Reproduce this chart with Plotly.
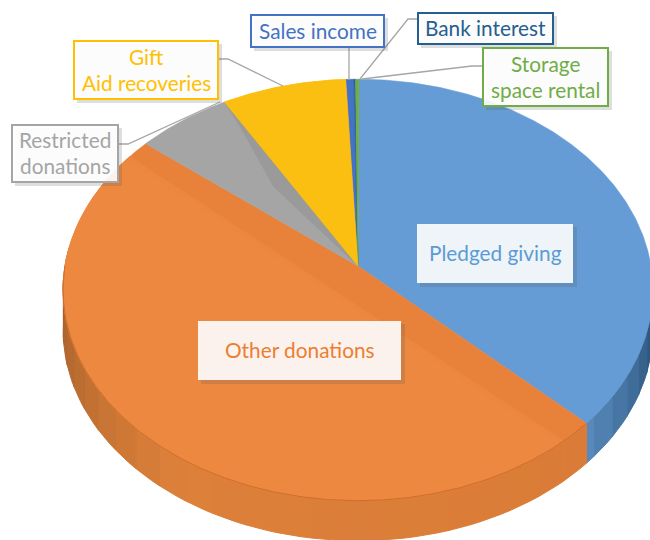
import math
import plotly.graph_objects as go

categories = ["Pledged giving", "Other donations", "Restricted donations", "Gift Aid recoveries",
              "Sales income", "Bank interest", "Storage space rental"]
values = [37.2, 48.6, 5.8, 7.6, 0.5, 0.1, 0.2]
face_colors = ["#659CD5", "#E8813A", "#A5A5A5", "#FBBF12", "#4472C4", "#2A6099", "#70AD47"]
label_lines = [["Pledged giving"], ["Other donations"], ["Restricted", "donations"],
               ["Gift", "Aid recoveries"], ["Sales income"], ["Bank interest"], ["Storage", "space rental"]]
label_colors = ["#5B9BD5", "#ED7D31", "#A5A5A5", "#FFC000", "#4472C4", "#255E91", "#70AD47"]

ROT = 0.2
CX, CY = 358, 266
A, B, K = 293, 208, 0.1137
DEPTH = 40
FONT = "Lato"


def pt(t, r=1.0):
    u, v = r * math.sin(math.radians(t)), r * math.cos(math.radians(t))
    w = 1 + K * v
    return CX + A * u / w, CY - B * v / w


def arc(a, b, n=None):
    n = n or max(2, int(abs(b - a)) * 2)
    return [pt(a + (b - a) * i / n) for i in range(n + 1)]


def lerp(c1, c2, f):
    a = [int(c1[i:i + 2], 16) for i in (1, 3, 5)]
    b = [int(c2[i:i + 2], 16) for i in (1, 3, 5)]
    return "rgb(%d,%d,%d)" % tuple(round(x + (y - x) * f) for x, y in zip(a, b))


fig = go.Figure()


def poly(points, color, line=None, width=0.6):
    fig.add_trace(go.Scatter(x=[p[0] for p in points] + [points[0][0]],
                             y=[p[1] for p in points] + [points[0][1]],
                             mode="lines", fill="toself", fillcolor=color,
                             line=dict(color=line or color, width=width),
                             showlegend=False, hoverinfo="skip"))


edges = [ROT]
for val in values:
    edges.append(edges[-1] + val / sum(values) * 360)

# outer wall
STEP = 6
blue_end = edges[1]
orange_end = edges[2]
t = 90.0
while t < blue_end:
    f = (t - 90) / (blue_end - 90)
    seg = arc(t, min(t + STEP, blue_end), STEP)
    poly(seg + [(x, y + DEPTH) for x, y in reversed(seg)], lerp("#1F4468", "#5A8DC0", f), width=1)
    t += STEP
t = blue_end
while t < 275:
    f = (t - blue_end) / (275 - blue_end)
    if f < 0.55:
        col = lerp("#DA7C37", "#DC803A", f / 0.55)
    else:
        col = lerp("#DC803A", "#9A5A28", (f - 0.55) / 0.45)
    seg = arc(t, min(t + STEP, 275), STEP)
    poly(seg + [(x, y + DEPTH) for x, y in reversed(seg)], col, width=1)
    t += STEP

# top face slices
for i, col in enumerate(face_colors):
    poly([(CX, CY)] + arc(edges[i], edges[i + 1]), col)

# bevel bands along the cut edges
poly(arc(edges[1] + 6, edges[2] - 5), "#EC8740")
poly(arc(edges[1] + 6, edges[2] - 5) and [pt(edges[1] + 7 + (edges[2] - edges[1] - 13) * i / 100) for i in range(101)],
     "#ED8841")
poly([(CX, CY), pt(edges[3], 1.0), pt(edges[3] - 1, 0.84), pt(edges[3] - 7, 0.5)], "#9A9A9A")
poly([(CX, CY)] + arc(edges[3], edges[4]), "#FBBF12")

# rim line between face and wall
rim = arc(edges[1], 270)
fig.add_trace(go.Scatter(x=[p[0] for p in rim], y=[p[1] for p in rim], mode="lines",
                         line=dict(color="#CF6C28", width=1), showlegend=False, hoverinfo="skip"))

# leader lines
leaders = [[(349, 47), (349, 80)],
           [(417, 19), (408, 19), (360, 79)],
           [(482, 66), (472, 66), (362, 79)],
           [(218, 59), (228, 59), (283, 86)],
           [(118, 144), (128, 144), (220, 102)]]
for pts in leaders:
    fig.add_trace(go.Scatter(x=[p[0] for p in pts], y=[p[1] for p in pts], mode="lines",
                             line=dict(color="#A6A6A6", width=1.3), showlegend=False, hoverinfo="skip"))

boxes = {0: (417, 224, 573, 283), 1: (198, 321, 401, 380), 2: (12, 125, 118, 182), 3: (74, 41, 218, 99),
         4: (251, 15, 384, 47), 5: (418, 13, 553, 44), 6: (483, 48, 608, 106)}
shapes, annotations = [], []
for i, (x0, y0, x1, y1) in boxes.items():
    shapes.append(dict(type="rect", x0=x0 + 3, y0=y0 + 3, x1=x1 + 4, y1=y1 + 4, layer="above",
                       line=dict(width=0), fillcolor="rgba(90,90,90,0.20)"))
    border = dict(color=label_colors[i], width=2) if i >= 2 else dict(width=0)
    shapes.append(dict(type="rect", x0=x0, y0=y0, x1=x1, y1=y1, layer="above", line=border,
                       fillcolor="rgba(255,255,255,0.90)"))
    lines = label_lines[i]
    for j, text in enumerate(lines):
        yc = (y0 + y1) / 2 - 1 if len(lines) == 1 else (y0 + y1) / 2 + (j - .5) * 26 - 1
        annotations.append(dict(x=(x0 + x1) / 2, y=yc, text=text, showarrow=False, xanchor="center",
                                yanchor="middle", font=dict(family=FONT, size=20.8, color=label_colors[i])))

fig.update_layout(width=650, height=540, margin=dict(l=0, r=0, t=0, b=0), paper_bgcolor="white",
                  plot_bgcolor="white", shapes=shapes, annotations=annotations,
                  xaxis=dict(range=[0, 650], visible=False, fixedrange=True),
                  yaxis=dict(range=[540, 0], visible=False, fixedrange=True))
fig.write_html("out.html", post_script="document.body.style.margin='0';", config={"displayModeBar": False})
